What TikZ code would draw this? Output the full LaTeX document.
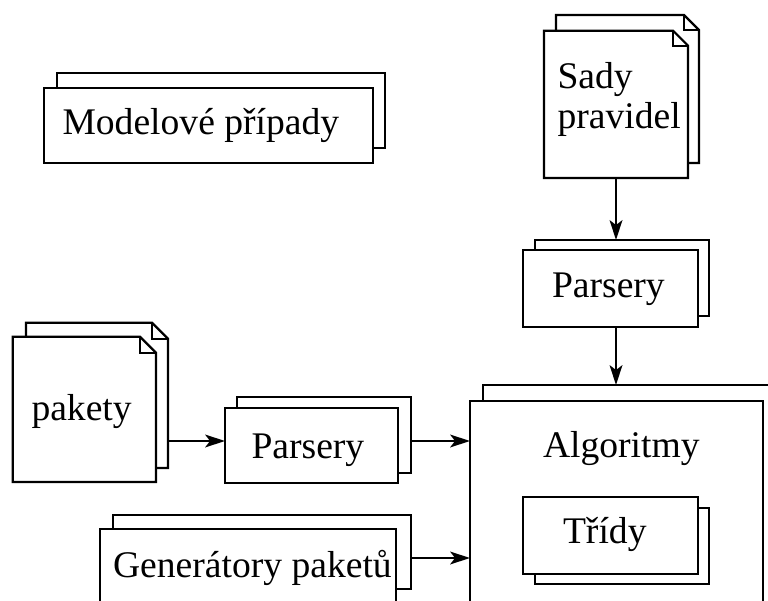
\documentclass[tikz,border=0pt]{standalone}
\usepackage{fontspec}
\setmainfont{Liberation Serif}
\usetikzlibrary{arrows.meta,fit}

\tikzset{
  page/.style={draw=black, line width=2.2pt, fill=white, inner sep=0pt, outer sep=0pt},
  ghost/.style={draw=none, fill=none, inner sep=0pt, outer sep=0pt},
  docline/.style={draw=black, line width=2.2pt, fill=white, line join=miter},
  caption/.style={font=\fontsize{37.6}{40}\selectfont, inner sep=0pt, outer sep=0pt, anchor=base west},
  flow/.style={line width=1.6pt, -{Stealth[length=20pt,width=13pt,inset=5pt,line width=0pt]}},
}

% document page with a folded top-right corner, drawn around node #1
\newcommand\dogearpage[2]{%
  \filldraw[docline] (#1.south west) -- (#1.north west) -- ([xshift=-#2]#1.north east)
    -- ([yshift=-#2]#1.north east) -- (#1.south east) -- cycle;
  \draw[docline, fill=none] ([xshift=-#2]#1.north east) |- ([yshift=-#2]#1.north east);
}

\begin{document}
\begin{tikzpicture}[x=1pt,y=-1pt]
  \clip (0,0) rectangle (768,601);
  \fill[white] (0,0) rectangle (768,601);

  % model cases
  \node[page, fit={(57,73) (385,148)}] (modelb) {};
  \node[page, fit={(44,88) (373,163)}] (model) {};
  \node[caption] (tmodel) at (62.5,135) {Modelové případy};

  % rule sets
  \node[ghost, fit={(556,15) (699,163)}] (sadyb) {};
  \dogearpage{sadyb}{15pt}
  \node[ghost, fit={(544,30.7) (688,178)}] (sady) {};
  \dogearpage{sady}{15pt}
  \node[caption] (tsady1) at (557.5,88.3) {Sady};
  \node[caption] (tsady2) at (557.5,128.5) {pravidel};

  % upper parsers
  \node[page, fit={(535,240) (709,316)}] (pars1b) {};
  \node[page, fit={(523,250) (698,327)}] (pars1) {};
  \node[caption] (tpars1) at (552,298) {Parsery};

  % packets
  \node[ghost, fit={(26,322.7) (168,468)}] (paketyb) {};
  \dogearpage{paketyb}{16pt}
  \node[ghost, fit={(12.7,336.7) (156,482)}] (pakety) {};
  \dogearpage{pakety}{16pt}
  \node[caption] (tpakety) at (31.5,420) {pakety};

  % left parsers
  \node[page, fit={(236.7,396.7) (410.7,472.7)}] (pars2b) {};
  \node[page, fit={(225,408) (398,483)}] (pars2) {};
  \node[caption] (tpars2) at (251.5,458) {Parsery};

  % algorithms
  \node[page, fit={(482.7,385) (780,625)}] (algb) {};
  \node[page, fit={(470,401) (763,640)}] (alg) {};
  \node[caption] (talg) at (543,457) {Algoritmy};

  % classes
  \node[page, fit={(535,508) (709,584)}] (tridyb) {};
  \node[page, fit={(523,497) (698,574)}] (tridy) {};
  \node[caption] (ttridy) at (563,543) {Třídy};

  % packet generators
  \node[page, fit={(112.7,515) (410.7,589)}] (genb) {};
  \node[page, fit={(100,529) (396,640)}] (gen) {};
  \node[caption] (tgen) at (113,577) {Generátory paketů};

  % connectors
  \coordinate (row1) at (0,441);
  \coordinate (row2) at (0,558);
  \draw[flow] (sady.south) -- (sady.south |- pars1b.north);
  \draw[flow] (sady.south |- pars1.south) -- (sady.south |- algb.north);
  \draw[flow] (paketyb.east |- row1) -- (pars2.west |- row1);
  \draw[flow] (pars2b.east |- row1) -- (alg.west |- row1);
  \draw[flow] (genb.east |- row2) -- (alg.west |- row2);
\end{tikzpicture}
\end{document}
